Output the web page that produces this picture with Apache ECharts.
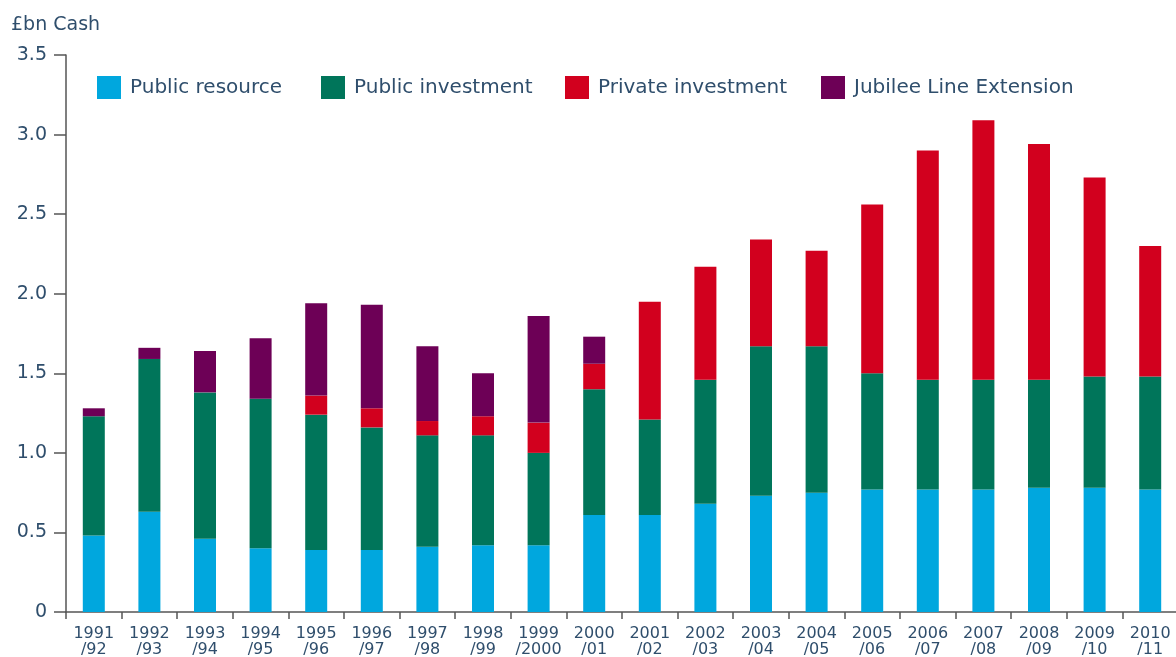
<!DOCTYPE html>
<html>
<head>
<meta charset="utf-8">
<script src="https://cdn.jsdelivr.net/npm/echarts@6/dist/echarts.min.js"></script>
<style>
  html, body { margin: 0; padding: 0; background: #fff; }
  #chart { width: 1176px; height: 657px; }
</style>
</head>
<body>
<div id="chart"></div>
<script>
const years = ['1991\n/92', '1992\n/93', '1993\n/94', '1994\n/95', '1995\n/96', '1996\n/97', '1997\n/98',
  '1998\n/99', '1999\n/2000', '2000\n/01', '2001\n/02', '2002\n/03', '2003\n/04', '2004\n/05',
  '2005\n/06', '2006\n/07', '2007\n/08', '2008\n/09', '2009\n/10', '2010\n/11'];

// £bn cash
const publicResource = [0.48, 0.63, 0.46, 0.40, 0.39, 0.39, 0.41, 0.42, 0.42, 0.61,
  0.61, 0.68, 0.73, 0.75, 0.77, 0.77, 0.77, 0.78, 0.78, 0.77];
const publicInvestment = [0.75, 0.96, 0.92, 0.94, 0.85, 0.77, 0.70, 0.69, 0.58, 0.79,
  0.60, 0.78, 0.94, 0.92, 0.73, 0.69, 0.69, 0.68, 0.70, 0.71];
const privateInvestment = [0, 0, 0, 0, 0.12, 0.12, 0.09, 0.12, 0.19, 0.16,
  0.74, 0.71, 0.67, 0.60, 1.06, 1.44, 1.63, 1.48, 1.25, 0.82];
const jubileeLine = [0.05, 0.07, 0.26, 0.38, 0.58, 0.65, 0.47, 0.27, 0.67, 0.17,
  0, 0, 0, 0, 0, 0, 0, 0, 0, 0];

const names = ['Public resource', 'Public investment', 'Private investment', 'Jubilee Line Extension'];
const colors = ['#00a7de', '#00755a', '#d2001e', '#6d0056'];
const legendLeft = [92, 316, 560, 816];

const font = 'DejaVu Sans, sans-serif';
const textColor = '#2f4e6c';
const axisColor = '#555';

const chart = echarts.init(document.getElementById('chart'));

const values = [publicResource, publicInvestment, privateInvestment, jubileeLine];

const option = {
  animation: false,
  textStyle: { fontFamily: font },
  title: {
    text: '£bn Cash',
    left: 6,
    top: 11,
    textStyle: { color: textColor, fontSize: 19, fontWeight: 'normal', fontFamily: font }
  },
  legend: names.map((n, i) => ({
    data: [n],
    left: legendLeft[i],
    top: 71,
    itemWidth: 24,
    itemHeight: 23,
    icon: 'rect',
    textStyle: { color: textColor, fontSize: 20, fontFamily: font, padding: [0, 0, 0, 4] }
  })),
  grid: { left: 66, top: 55, width: 1112, height: 557, containLabel: false, outerBoundsMode: 'none' },
  xAxis: {
    type: 'category',
    data: years,
    axisLine: { lineStyle: { color: axisColor, width: 1.5 } },
    axisTick: { show: true, length: 7, lineStyle: { color: axisColor, width: 1.5 } },
    axisLabel: { color: textColor, fontSize: 16, lineHeight: 16, margin: 14, interval: 0 }
  },
  yAxis: {
    type: 'value',
    min: 0,
    max: 3.5,
    interval: 0.5,
    splitLine: { show: false },
    axisLine: { show: true, lineStyle: { color: axisColor, width: 1.5 } },
    axisTick: { show: true, length: 12, lineStyle: { color: axisColor, width: 1.5 } },
    axisLabel: {
      color: textColor,
      fontSize: 19,
      margin: 19,
      formatter: v => (v === 0 ? '0' : v.toFixed(1))
    }
  },
  series: names.map((n, i) => ({
    name: n,
    type: 'bar',
    stack: 'total',
    barWidth: 22,
    itemStyle: { color: colors[i] },
    data: values[i]
  }))
};

chart.setOption(option);
</script>
</body>
</html>
